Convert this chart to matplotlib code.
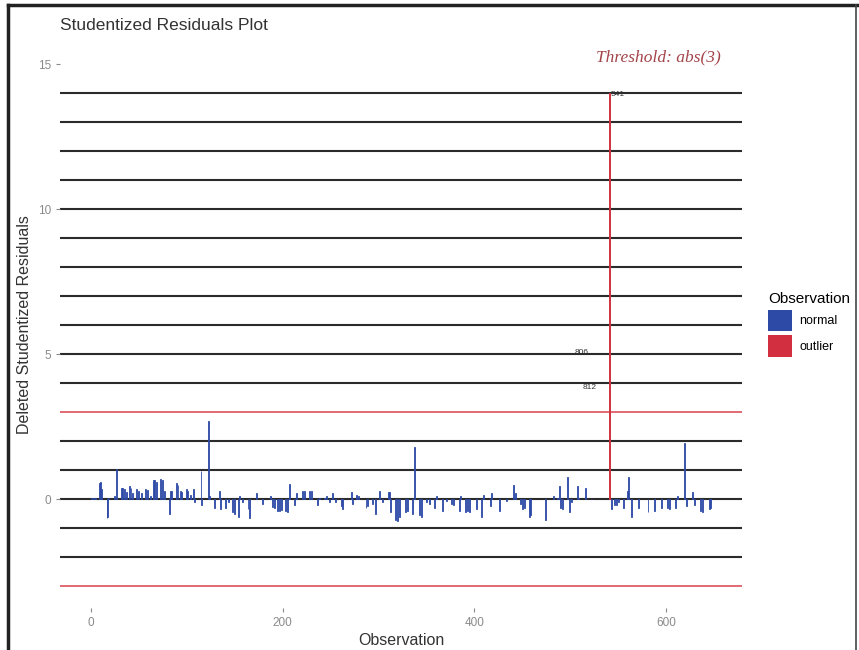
import matplotlib
matplotlib.use("Agg")
import matplotlib.pyplot as plt
from matplotlib.patches import Patch
from matplotlib.lines import Line2D

plt.rcParams["font.family"] = ["Liberation Sans", "DejaVu Sans"]

# observation index and deleted studentized residual
obs = [1, 3, 5, 9, 10, 11, 17, 18, 19, 25,
       27, 32, 33, 35, 37, 40, 42, 44, 48, 50,
       53, 57, 59, 62, 65, 67, 69, 73, 75, 77,
       82, 83, 84, 89, 91, 94, 95, 100, 101, 104,
       107, 108, 115, 116, 123, 124, 129, 134, 135, 141,
       144, 148, 150, 154, 155, 158, 164, 166, 173, 179,
       187, 190, 192, 195, 197, 199, 203, 205, 207, 212,
       215, 221, 223, 228, 230, 236, 239, 244, 246, 249,
       252, 255, 261, 263, 272, 273, 277, 279, 287, 289,
       294, 297, 301, 304, 310, 312, 313, 318, 320, 322,
       328, 330, 335, 338, 343, 345, 350, 353, 358, 361,
       367, 371, 376, 378, 384, 386, 391, 393, 395, 402,
       407, 410, 417, 418, 426, 433, 441, 443, 448, 450,
       452, 457, 459, 474, 482, 487, 489, 490, 492, 497,
       499, 501, 508, 509, 516, 522, 543, 546, 548, 550,
       555, 560, 561, 564, 571, 581, 588, 595, 601, 603,
       610, 612, 619, 621, 627, 629, 636, 638, 645, 646]
resid = [0.05, 0.05, 0.04, 0.55, 0.6, 0.35, -0.65, -0.6, 0.05, 0.1,
         1.03, 0.4, 0.38, 0.35, 0.26, 0.44, 0.4, 0.2, 0.35, 0.3,
         0.2, 0.35, 0.33, 0.1, 0.65, 0.66, 0.6, 0.7, 0.65, 0.3,
         -0.5, 0.3, 0.28, 0.55, 0.5, 0.3, 0.25, 0.35, 0.3, 0.15,
         0.35, -0.1, 0.97, -0.2, 2.7, 0.1, -0.3, 0.3, -0.35, -0.3,
         -0.1, -0.45, -0.5, -0.6, 0.1, -0.1, -0.35, -0.65, 0.22, -0.15,
         0.1, -0.28, -0.3, -0.4, -0.42, -0.38, -0.4, -0.45, 0.52, -0.2,
         0.2, 0.3, 0.28, 0.3, 0.3, -0.2, 0.05, 0.05, 0.1, -0.1,
         0.2, -0.1, -0.25, -0.35, 0.25, -0.15, 0.15, 0.12, -0.3, -0.25,
         -0.15, -0.5, 0.3, -0.1, 0.25, 0.25, -0.45, -0.7, -0.75, -0.6,
         -0.45, -0.4, -0.5, 1.8, -0.55, -0.6, -0.1, -0.15, -0.3, 0.1,
         -0.4, -0.05, -0.15, -0.2, -0.4, 0.1, -0.45, -0.4, -0.45, -0.35,
         -0.6, 0.15, -0.25, 0.2, -0.4, -0.05, 0.5, 0.2, -0.15, -0.35,
         -0.3, -0.6, -0.55, -0.7, 0.1, 0.05, 0.45, -0.3, -0.35, 0.75,
         -0.45, -0.1, 0.45, 0.05, 0.4, 0.02, -0.35, -0.2, -0.2, -0.1,
         -0.3, 0.3, 0.76, -0.6, -0.3, -0.45, -0.4, -0.3, -0.3, -0.35,
         -0.3, 0.1, 1.93, -0.25, 0.25, -0.2, -0.4, -0.45, -0.35, -0.3]

outlier_obs = [541]
outlier_resid = [14]

label_obs = [541, 512, 520]
label_val = [13.95, 5.05, 3.85]
label_txt = ["541", "806", "812"]

threshold = 3
hlines = list(range(-3, 15))

blue = "#2d4aa6"
red = "#d0343f"

fig = plt.figure(figsize=(8.59, 6.5), dpi=100)
ax = fig.add_axes([60 / 859, 1 - 608 / 650, (742 - 60) / 859, (608 - 41) / 650])

for v in hlines:
    if abs(v) == threshold:
        ax.axhline(v, color="#d9434d", lw=1.1, zorder=1)
    else:
        ax.axhline(v, color="#2b2b2b", lw=1.5, zorder=1)

ax.bar(obs, resid, width=1.0, color=blue, edgecolor=blue, linewidth=0.6, zorder=2)
ax.bar(outlier_obs, outlier_resid, width=1.0, color=red, edgecolor=red,
       linewidth=0.7, zorder=2)

for x, y, t in zip(label_obs, label_val, label_txt):
    ha = "left" if t == "541" else "center"
    ax.text(x + (1 if t == "541" else 0), y, t, fontsize=6, color="#333333",
            ha=ha, va="center", zorder=3)

# threshold note, placed in pixel terms of the panel
ax.text((658 - 60) / (742 - 60), (608 - 57) / (608 - 41), "Threshold: abs(3)",
        transform=ax.transAxes, fontsize=12.5, color="#a3444a",
        family="Liberation Serif", style="italic", ha="center", va="center")

ax.set_xlim(-32, 679)
ax.set_ylim(-3.75, 15.8)
ax.set_xticks([0, 200, 400, 600])
ax.set_yticks([0, 5, 10, 15])
ax.tick_params(colors="#8a8a8a", labelsize=8.5, length=3, width=0.8,
               labelcolor="#8a8a8a")
for s in ax.spines.values():
    s.set_visible(False)

ax.set_xlabel("Observation", fontsize=11.5, color="#333333", labelpad=3)
ax.set_ylabel("Deleted Studentized Residuals", fontsize=11.5, color="#333333",
              labelpad=4)
fig.text(60 / 859, 1 - 25 / 650, "Studentized Residuals Plot", fontsize=12.5,
         color="#333333", ha="left", va="center")

handles = [Patch(facecolor=blue, edgecolor="none", label="normal"),
           Patch(facecolor="#d23040", edgecolor="none", label="outlier")]
fig.legend(handles=handles, title="Observation", loc="upper left",
           bbox_to_anchor=(758 / 859, 1 - 282 / 650), frameon=False,
           fontsize=9, title_fontsize=11, handlelength=1.9,
           handleheight=2.3, handletextpad=0.6, labelspacing=0.3,
           alignment="left", borderpad=0.3)

# border of the scanned page
fig.add_artist(Line2D([8 / 859, 8 / 859], [0, 1 - 5 / 650], color="#222222", lw=2.5))
fig.add_artist(Line2D([8 / 859, 1], [1 - 5 / 650, 1 - 5 / 650], color="#222222", lw=2.5))
fig.add_artist(Line2D([856 / 859, 856 / 859], [0, 1 - 5 / 650], color="#444444", lw=1.2))

fig.savefig("out.png", dpi=100)
